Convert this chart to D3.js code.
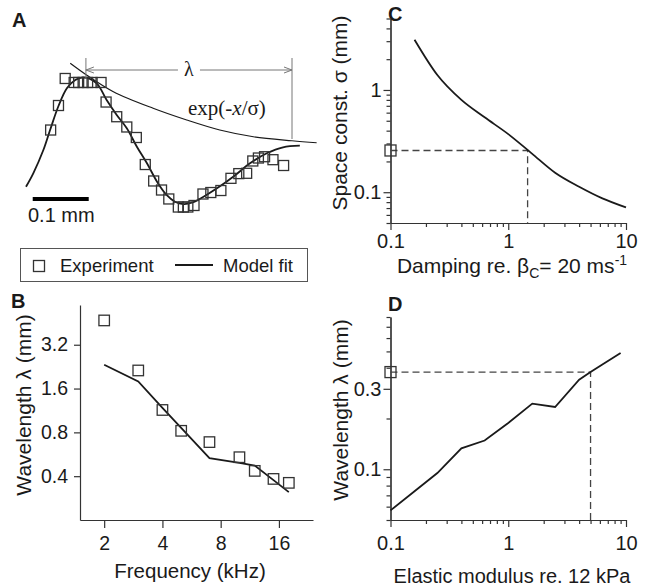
<!DOCTYPE html>
<html><head><meta charset="utf-8">
<script src="https://cdn.jsdelivr.net/npm/d3@7"></script>
<style>body{margin:0;background:#fff}svg{display:block}</style>
</head><body>
<script>
// ---------- Panel A : waveform (position in mm, normalized amplitude) ----------
const posA = [0.044,0.058,0.070,0.086,0.094,0.102,0.110,0.118,0.134,0.143,0.162,0.180,0.197,0.213,0.228,0.242,0.255,0.272,0.281,0.289,0.300,0.316,0.330,0.348,0.366,0.380,0.394,0.405,0.415,0.426,0.441,0.460];
const ampA = [0.178,0.558,0.977,0.915,0.915,0.915,0.915,0.915,0.915,0.612,0.384,0.225,0.062,-0.357,-0.612,-0.752,-0.891,-1.016,-1.016,-1.016,-0.992,-0.814,-0.791,-0.760,-0.571,-0.498,-0.493,-0.302,-0.256,-0.236,-0.282,-0.372];
const fitPosA = [0.000,0.013,0.031,0.043,0.058,0.073,0.088,0.102,0.126,0.144,0.162,0.180,0.198,0.216,0.234,0.251,0.266,0.281,0.296,0.317,0.341,0.370,0.400,0.430,0.459,0.489];
const fitAmpA = [-0.701,-0.493,-0.132,0.178,0.550,0.825,0.953,0.995,0.902,0.643,0.411,0.205,-0.081,-0.338,-0.623,-0.829,-0.933,-0.969,-0.949,-0.856,-0.726,-0.546,-0.338,-0.183,-0.090,-0.065];
const envPosA = [0.079,0.108,0.156,0.227,0.287,0.346,0.406,0.475,0.519];
const envAmpA = [1.212,1.031,0.772,0.515,0.333,0.178,0.074,0.012,-0.019];
const lambdaStartA = 0.107, lambdaEndA = 0.475;   // mm
const scaleBarA = [0.012, 0.112];                  // 0.1 mm

// ---------- Panel B : wavelength vs frequency ----------
const freqB = [2,3,4,5,7,10,12,15,18];
const expB  = [4.7,2.13,1.14,0.82,0.686,0.54,0.435,0.383,0.36];
const fitFreqB = [2,3,4,5,7,10,12,15,18];
const fitB  = [2.33,1.79,1.18,0.86,0.533,0.493,0.473,0.376,0.311];
const ticksBx = [2,4,8,16];
const ticksBy = [0.4,0.8,1.6,3.2];

// ---------- Panel C : space constant vs damping ----------
const dampC  = [0.16,0.25,0.4,0.63,1,1.58,2.5,4,6.3,10];
const sigmaC = [3.1,1.4,0.8,0.54,0.37,0.24,0.155,0.113,0.087,0.071];
const expSigmaC = 0.256, bestDampC = 1.46;
const majorCx = [0.1,1,10], majorCy = [0.1,1];

// ---------- Panel D : wavelength vs elastic modulus ----------
const modD    = [0.1,0.16,0.25,0.4,0.63,1,1.6,2.5,4,5,6.3,9];
const lambdaD = [0.057,0.074,0.095,0.133,0.148,0.188,0.245,0.234,0.34,0.377,0.418,0.49];
const expLambdaD = 0.377, bestModD = 5;
const majorDx = [0.1,1,10], majorDy = [0.1,0.3];

const W = 645, H = 587;
const FONT = "'Liberation Sans', Arial, sans-serif";
const SERIF = "'Liberation Serif', 'Times New Roman', serif";
const INK = "#1a1a1a", AX = "#333";

const svg = d3.select("body").append("svg").attr("width", W).attr("height", H)
  .style("background", "#fff");

function square(g, cx, cy, s) {
  g.append("rect").attr("x", cx - s/2).attr("y", cy - s/2).attr("width", s).attr("height", s)
    .attr("fill", "none").attr("stroke", AX).attr("stroke-width", 1.3);
}
function styleAxis(g) {
  g.select(".domain").attr("stroke", AX).attr("stroke-width", 1.2);
  g.selectAll(".tick line").attr("stroke", AX).attr("stroke-width", 1.2);
  g.selectAll(".tick text").attr("fill", INK).style("font-family", FONT);
}
function panelLetter(t, x, y) {
  svg.append("text").attr("x", x).attr("y", y).text(t)
    .style("font-family", FONT).style("font-weight", "bold").style("font-size", "20px").attr("fill", INK);
}

// ================= Panel A =================
{
  const x = d3.scaleLinear().domain([0, 0.5]).range([26, 306]);
  const y = d3.scaleLinear().domain([-1, 1]).range([206, 77]);
  const g = svg.append("g");
  const line = d3.line().curve(d3.curveCatmullRom.alpha(0.5));
  g.append("path").attr("d", line(fitPosA.map((p,i)=>[x(p), y(fitAmpA[i])])))
    .attr("fill","none").attr("stroke", INK).attr("stroke-width", 1.8);
  g.append("path").attr("d", line(envPosA.map((p,i)=>[x(p), y(envAmpA[i])])))
    .attr("fill","none").attr("stroke", INK).attr("stroke-width", 1.2);
  posA.forEach((p,i)=>square(g, x(p), y(ampA[i]), 10));

  // lambda bracket
  const xl = x(lambdaStartA), xr = x(lambdaEndA), ya = 70;
  const gc = "#777";
  g.append("line").attr("x1", xl).attr("x2", xl).attr("y1", 58).attr("y2", 79).attr("stroke", gc);
  g.append("line").attr("x1", xr).attr("x2", xr).attr("y1", 58).attr("y2", 139).attr("stroke", gc);
  const mid = (xl + xr) / 2;
  g.append("line").attr("x1", xl).attr("x2", mid - 11).attr("y1", ya).attr("y2", ya).attr("stroke", gc);
  g.append("line").attr("x1", mid + 11).attr("x2", xr).attr("y1", ya).attr("y2", ya).attr("stroke", gc);
  g.append("path").attr("d", `M${xl+8},${ya-3}L${xl},${ya}L${xl+8},${ya+3}`).attr("fill","none").attr("stroke", gc);
  g.append("path").attr("d", `M${xr-8},${ya-3}L${xr},${ya}L${xr-8},${ya+3}`).attr("fill","none").attr("stroke", gc);
  g.append("text").attr("x", mid).attr("y", 76).attr("text-anchor","middle").text("λ")
    .style("font-family", SERIF).style("font-size","20px").attr("fill", INK);
  const et = g.append("text").attr("x", 188).attr("y", 115)
    .style("font-family", SERIF).style("font-size","21px").attr("fill", INK);
  et.append("tspan").text("exp(-");
  et.append("tspan").text("x").style("font-style","italic");
  et.append("tspan").text("/σ)");

  // scale bar
  g.append("line").attr("x1", x(scaleBarA[0])).attr("x2", x(scaleBarA[1])).attr("y1", 199).attr("y2", 199)
    .attr("stroke", "#000").attr("stroke-width", 4);
  g.append("text").attr("x", 28).attr("y", 222).text("0.1 mm")
    .style("font-family", FONT).style("font-size","20px").attr("fill", INK);
  panelLetter("A", 12, 27);
}

// ================= Legend =================
{
  const g = svg.append("g");
  g.append("rect").attr("x", 20.5).attr("y", 248.5).attr("width", 287).attr("height", 33)
    .attr("fill","none").attr("stroke","#555").attr("stroke-width",1);
  square(g, 39, 266, 11);
  g.append("text").attr("x", 60).attr("y", 272).text("Experiment")
    .style("font-family", FONT).style("font-size","18.5px").attr("fill", INK);
  g.append("line").attr("x1",175).attr("x2",213).attr("y1",265).attr("y2",265).attr("stroke",INK).attr("stroke-width",1.8);
  g.append("text").attr("x", 223).attr("y", 272).text("Model fit")
    .style("font-family", FONT).style("font-size","18.5px").attr("fill", INK);
}

// ================= Panel B =================
{
  const x = d3.scaleLog().base(2).domain([1.5, 24]).range([80, 313]);
  const y = d3.scaleLog().base(2).domain([0.2, 6]).range([520, 305]);
  const g = svg.append("g");
  const ax = g.append("g").attr("transform","translate(0,520)")
    .call(d3.axisBottom(x).tickValues(ticksBx).tickFormat(d3.format("d")).tickSize(8).tickSizeOuter(0).tickPadding(8));
  ax.selectAll("text").style("font-size","19.5px");
  styleAxis(ax);
  const ay = g.append("g").attr("transform","translate(80,0)")
    .call(d3.axisLeft(y).tickValues(ticksBy).tickFormat(d3.format(".1f")).tickSize(6).tickSizeOuter(0).tickPadding(6));
  ay.selectAll("text").style("font-size","19.5px");
  styleAxis(ay);
  g.append("path").attr("d", d3.line()(fitFreqB.map((f,i)=>[x(f), y(fitB[i])])))
    .attr("fill","none").attr("stroke",INK).attr("stroke-width",1.8);
  freqB.forEach((f,i)=>square(g, x(f), y(expB[i]), 10.5));
  g.append("text").attr("x", 190).attr("y", 578).attr("text-anchor","middle").text("Frequency (kHz)")
    .style("font-family", FONT).style("font-size","20.5px").attr("fill", INK);
  g.append("text").attr("transform","translate(31,405) rotate(-90)").attr("text-anchor","middle")
    .text("Wavelength λ (mm)").style("font-family", FONT).style("font-size","21px").attr("fill", INK);
  panelLetter("B", 11, 308);
}

// ================= Panel C =================
{
  const x = d3.scaleLog().domain([0.1, 10]).range([390.5, 626]);
  const y = d3.scaleLog().domain([0.05, 5]).range([223, 18.5]);
  const g = svg.append("g");
  const minX = x.ticks().filter(v=>!majorCx.some(m=>Math.abs(m-v)<1e-9));
  const minY = y.ticks().filter(v=>!majorCy.some(m=>Math.abs(m-v)<1e-9));
  const axm = g.append("g").attr("transform","translate(0,223)")
    .call(d3.axisBottom(x).tickValues(minX).tickFormat("").tickSize(4).tickSizeOuter(0));
  styleAxis(axm);
  const ax = g.append("g").attr("transform","translate(0,223)")
    .call(d3.axisBottom(x).tickValues(majorCx).tickFormat(d=>String(d)).tickSize(7).tickSizeOuter(0).tickPadding(4));
  ax.selectAll("text").style("font-size","20px");
  styleAxis(ax);
  const aym = g.append("g").attr("transform","translate(390.5,0)")
    .call(d3.axisLeft(y).tickValues(minY).tickFormat("").tickSize(4).tickSizeOuter(0));
  styleAxis(aym);
  const ay = g.append("g").attr("transform","translate(390.5,0)")
    .call(d3.axisLeft(y).tickValues(majorCy).tickFormat(d=>String(d)).tickSize(7).tickSizeOuter(0).tickPadding(2));
  ay.selectAll("text").style("font-size","20px");
  styleAxis(ay);
  // dashed guides
  g.append("path").attr("d", `M${x(0.1)},${y(expSigmaC)}H${x(bestDampC)}V${y(0.05)}`)
    .attr("fill","none").attr("stroke","#444").attr("stroke-width",1.3).attr("stroke-dasharray","7,4");
  g.append("path").attr("d", d3.line().curve(d3.curveMonotoneX)(dampC.map((d,i)=>[x(d), y(sigmaC[i])])))
    .attr("fill","none").attr("stroke",INK).attr("stroke-width",1.8);
  square(g, x(0.1), y(expSigmaC), 11);
  const t = g.append("text").attr("x", 512).attr("y", 273).attr("text-anchor","middle")
    .style("font-family", FONT).style("font-size","21px").attr("fill", INK);
  t.append("tspan").text("Damping re. β");
  t.append("tspan").text("C").attr("dy", 5).style("font-size","14px");
  t.append("tspan").text("= 20 ms").attr("dy", -5);
  t.append("tspan").text("-1").attr("dy", -8).style("font-size","14px");
  g.append("text").attr("transform","translate(347,113) rotate(-90)").attr("text-anchor","middle")
    .text("Space const. σ (mm)").style("font-family", FONT).style("font-size","21px").attr("fill", INK);
  panelLetter("C", 388, 21);
}

// ================= Panel D =================
{
  const x = d3.scaleLog().domain([0.1, 10]).range([390.5, 626]);
  const y = d3.scaleLog().domain([0.05, 0.8]).range([520, 317]);
  const g = svg.append("g");
  const minX = x.ticks().filter(v=>!majorDx.some(m=>Math.abs(m-v)<1e-9));
  const minY = y.ticks().filter(v=>!majorDy.some(m=>Math.abs(m-v)<1e-9));
  const axm = g.append("g").attr("transform","translate(0,520)")
    .call(d3.axisBottom(x).tickValues(minX).tickFormat("").tickSize(4).tickSizeOuter(0));
  styleAxis(axm);
  const ax = g.append("g").attr("transform","translate(0,520)")
    .call(d3.axisBottom(x).tickValues(majorDx).tickFormat(d=>String(d)).tickSize(7).tickSizeOuter(0).tickPadding(9));
  ax.selectAll("text").style("font-size","20px");
  styleAxis(ax);
  const aym = g.append("g").attr("transform","translate(390.5,0)")
    .call(d3.axisLeft(y).tickValues(minY).tickFormat("").tickSize(4).tickSizeOuter(0));
  styleAxis(aym);
  const ay = g.append("g").attr("transform","translate(390.5,0)")
    .call(d3.axisLeft(y).tickValues(majorDy).tickFormat(d=>String(d)).tickSize(7).tickSizeOuter(0).tickPadding(2));
  ay.selectAll("text").style("font-size","20px");
  styleAxis(ay);
  g.append("path").attr("d", `M${x(0.1)},${y(expLambdaD)}H${x(bestModD)}V${y(0.05)}`)
    .attr("fill","none").attr("stroke","#444").attr("stroke-width",1.3).attr("stroke-dasharray","7,4");
  g.append("path").attr("d", d3.line()(modD.map((d,i)=>[x(d), y(lambdaD[i])])))
    .attr("fill","none").attr("stroke",INK).attr("stroke-width",1.8);
  square(g, x(0.1), y(expLambdaD), 11);
  g.append("text").attr("x", 512).attr("y", 583).attr("text-anchor","middle").text("Elastic modulus re. 12 kPa")
    .style("font-family", FONT).style("font-size","20px").attr("fill", INK);
  g.append("text").attr("transform","translate(348,410) rotate(-90)").attr("text-anchor","middle")
    .text("Wavelength λ (mm)").style("font-family", FONT).style("font-size","21px").attr("fill", INK);
  panelLetter("D", 388, 311);
}
</script>
</body></html>
